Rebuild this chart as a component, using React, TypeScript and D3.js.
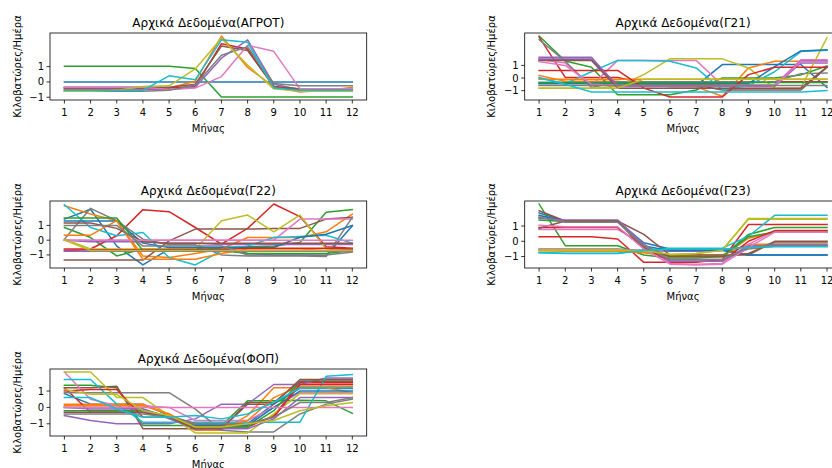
import React from "react";
import * as d3 from "d3";

// Monthly normalized daily consumption (kWh/day) per customer category
const months = [1, 2, 3, 4, 5, 6, 7, 8, 9, 10, 11, 12];
const yTicks = [-1, 0, 1];
const titles = [
  "Αρχικά Δεδομένα(ΑΓΡΟΤ)",
  "Αρχικά Δεδομένα(Γ21)",
  "Αρχικά Δεδομένα(Γ22)",
  "Αρχικά Δεδομένα(Γ23)",
  "Αρχικά Δεδομένα(ΦΟΠ)",
];
const yLabel = "Κιλοβατώρες/Ημέρα";
const xLabel = "Μήνας";

const agrotSeries = [
  [0, 0, 0, 0, 0, 0, 0, 0, 0, 0, 0, 0],
  [-0.45, -0.45, -0.45, -0.45, -0.4, 0.05, 3.0, 0.95, -0.3, -0.65, -0.55, -0.35],
  [1.03, 1.03, 1.03, 1.03, 1.03, 0.88, -0.98, -0.98, -0.98, -0.98, -0.98, -0.98],
  [-0.4, -0.4, -0.4, -0.4, -0.4, -0.3, 2.5, 2.15, -0.3, -0.55, -0.55, -0.5],
  [-0.5, -0.5, -0.5, -0.5, -0.5, -0.35, 1.55, 2.75, -0.15, -0.5, -0.5, -0.5],
  [-0.35, -0.35, -0.35, -0.35, -0.35, -0.15, 2.35, 2.05, -0.3, -0.45, -0.45, -0.45],
  [-0.35, -0.35, -0.35, -0.35, -0.5, -0.4, 0.35, 2.4, 2.0, -0.45, -0.45, -0.45],
  [-0.6, -0.6, -0.6, -0.6, -0.55, -0.2, 1.75, 2.3, -0.1, -0.25, -0.25, -0.25],
  [-0.6, -0.6, -0.55, -0.3, -0.25, 0.85, 2.85, 1.1, -0.45, -0.6, -0.6, -0.6],
  [-0.55, -0.55, -0.55, -0.55, 0.4, 0.15, 2.75, 2.6, -0.4, -0.55, -0.55, -0.55],
];

const g21Series = [
  [-0.35, -0.35, -0.35, -0.35, -0.6, -0.6, -0.6, 1.07, 1.07, 1.07, 1.07, -0.75],
  [0.2, -0.25, -0.25, -0.25, -0.5, -0.7, -0.7, -1.45, 0.8, 1.33, 1.33, 1.33],
  [3.33, 1.35, 0.85, -1.33, -1.33, -1.33, -0.95, 0.0, 0.0, 0.0, 0.25, 0.95],
  [3.25, 0.05, 0.05, 0.05, -0.4, -0.5, -0.5, -0.5, -0.3, -0.3, -0.3, -0.3],
  [1.65, 1.65, 1.65, -0.67, -0.67, -0.67, -0.67, -0.67, -0.67, -0.67, 1.2, 1.2],
  [1.47, 1.47, 1.47, -0.55, -0.55, -0.55, -0.55, -0.95, -0.95, -0.95, -0.95, 0.85],
  [1.47, 1.2, -0.6, 1.4, 1.4, 1.4, 1.4, -0.55, -0.55, -0.55, 1.45, 1.45],
  [3.05, 1.33, -0.75, -0.3, -0.3, -0.3, -0.3, -0.3, -0.3, -0.3, 0.35, 0.4],
  [-0.8, -0.8, -0.8, -0.67, 0.27, 1.52, 1.52, 1.52, 0.8, -0.8, -0.8, 3.2],
  [0.05, -0.45, 0.5, 1.4, 1.4, 1.33, 0.8, -0.93, -0.6, 0.5, 2.1, 2.2],
  [-0.45, -0.45, -0.45, -0.45, -0.45, -0.45, -0.45, -0.45, -0.45, 0.9, 2.15, 2.25],
  [-0.1, -0.1, -0.1, -0.1, -0.1, -0.1, -0.1, -0.1, -0.1, -0.1, -0.1, -0.1],
  [-0.35, -0.35, -0.35, -0.35, -0.35, -0.35, -0.35, -0.35, -0.35, -0.35, -0.35, -0.35],
  [0.6, 0.6, 0.6, 0.6, -0.8, -1.5, -1.5, -1.5, 0.27, 0.85, 0.85, 0.85],
  [1.5, 1.5, 1.5, -0.6, -0.6, -0.6, -0.6, -0.6, -0.6, -0.6, 1.35, 1.35],
  [1.4, 1.4, 1.4, -0.8, -0.8, -0.8, -0.8, -0.8, -0.8, -0.8, -0.8, 0.9],
  [1.3, 1.0, -0.5, -0.6, -0.6, -0.6, -0.6, -0.6, -0.6, -0.6, 1.3, 1.3],
  [-0.6, -0.6, -0.6, -0.6, -0.6, -0.6, -0.6, -0.6, -0.6, -0.6, -0.6, -0.6],
  [-0.8, -0.8, -0.8, -0.8, -0.1, -0.1, -0.1, -0.1, -0.1, -0.1, -0.1, -0.1],
  [0.0, -0.5, -1.1, -1.1, -1.1, -1.1, -1.1, -1.1, -1.1, -1.1, -1.1, -1.0],
];

const g22Series = [
  [1.43, 2.1, -0.4, -1.68, -0.6, -0.55, -0.55, -0.9, -1.0, -1.0, -1.05, 0.98],
  [2.34, 1.77, 1.32, -1.07, -1.18, -0.9, -0.6, 0.18, 0.18, 0.18, 0.57, 1.77],
  [0.86, 0.18, -1.07, -0.6, -0.6, -0.6, -0.5, -0.45, -0.4, -0.16, 1.89, 2.07],
  [-0.6, -0.6, 0.3, 2.07, 1.93, 0.86, -0.27, 0.8, 2.45, 1.6, -0.45, -0.55],
  [0.0, -0.1, -0.1, -0.1, -0.2, -0.2, -0.3, -0.3, -0.3, -0.3, -0.3, -0.3],
  [-1.35, -1.35, -1.35, -1.35, -0.05, 0.75, 0.75, 0.75, 0.8, 0.8, 1.43, 1.55],
  [0.0, 0.0, 0.0, 0.0, 0.0, 0.0, 0.0, 0.0, 0.0, 1.43, 1.43, 1.43],
  [0.07, 2.16, 1.32, 0.07, -0.3, -0.3, -1.0, -1.07, -1.07, -1.07, -1.1, 1.55],
  [0.07, -0.6, -0.6, -0.6, -0.6, -0.6, 1.32, 1.7, 0.57, 1.7, -0.6, -0.6],
  [2.4, 0.86, 0.3, 0.52, -1.18, -1.68, -0.73, -0.4, 0.18, 0.25, 0.34, -0.2],
  [1.3, 1.3, 1.3, -0.2, -0.5, -0.5, -0.5, -0.5, -0.5, 0.2, 0.4, 1.0],
  [0.34, 0.34, 1.32, -1.3, -1.3, -1.3, -0.9, -0.6, -0.6, -0.6, -0.7, -0.7],
  [1.5, 1.5, 1.5, -0.7, -0.7, -0.7, -0.7, -0.9, -0.9, -0.9, -0.9, -0.7],
  [-0.7, -0.65, -0.65, -0.65, -0.65, -0.65, -0.65, -0.55, -0.55, -0.55, -0.55, -0.6],
  [-0.75, -0.75, -0.75, -0.75, -0.75, -0.75, -0.75, -0.75, -0.75, -0.75, -0.75, -0.75],
  [1.16, 1.16, 0.8, -0.1, -0.2, -0.2, -0.2, -0.2, -0.2, -0.2, -0.2, -0.2],
  [0.0, 0.0, 0.0, 0.0, 0.0, 0.0, 0.0, 0.0, 0.0, 0.0, 0.0, 0.0],
  [1.0, 1.0, 1.0, -0.4, -0.4, -0.4, -0.4, -1.0, -1.0, -1.0, -1.0, -0.8],
  [0.0, -0.7, -0.7, -0.7, -0.7, -0.7, -0.7, -0.7, -0.7, -0.7, -0.7, -0.7],
];

const g23Series = [
  [1.85, 1.33, 1.33, 1.33, -0.1, -0.5, -0.5, -0.5, -0.9, -0.9, -0.9, -0.9],
  [-0.6, -0.6, -0.6, -0.6, -0.7, -0.9, -0.9, -0.9, -0.2, -0.2, -0.2, -0.2],
  [2.44, -0.29, -0.29, -0.29, -0.9, -1.1, -1.1, -1.0, 0.45, 0.9, 0.9, 0.9],
  [0.3, 0.3, 0.3, 0.15, -1.38, -1.38, -1.38, -1.2, 1.1, 1.1, 1.1, 1.1],
  [-0.5, -0.5, -0.5, -0.5, -0.6, -0.65, -0.65, -0.6, -0.3, -0.3, -0.3, -0.3],
  [2.0, 1.33, 1.33, 1.33, 0.45, -0.9, -0.9, -0.9, -0.9, 0.0, 0.0, 0.0],
  [0.78, 0.78, 0.78, 0.78, -0.2, -1.45, -1.5, -1.45, -0.2, 0.67, 0.67, 0.67],
  [1.55, 1.33, 1.33, 1.33, -0.2, -1.2, -1.2, -1.2, -0.5, -0.33, -0.33, -0.33],
  [-0.55, -0.55, -0.55, -0.55, -0.67, -0.9, -0.8, -0.55, 1.45, 1.45, 1.45, 1.45],
  [-0.73, -0.78, -0.78, -0.78, -0.55, -0.45, -0.45, -0.45, 0.33, 1.7, 1.7, 1.7],
  [1.7, 1.3, 1.3, 1.3, -0.3, -0.6, -0.6, -0.6, -0.9, -0.9, -0.9, -0.9],
  [-0.6, -0.65, -0.65, -0.65, -0.75, -1.0, -1.0, -1.0, 0.2, 0.6, 0.6, 0.6],
  [1.4, 1.3, 1.3, 1.3, -0.3, -1.0, -1.0, -1.0, 0.3, 0.6, 0.6, 0.6],
  [0.9, 0.9, 0.9, 0.9, -0.4, -1.3, -1.3, -1.3, 0.0, 0.7, 0.7, 0.7],
  [1.5, 1.4, 1.4, 1.4, -0.2, -1.3, -1.3, -1.3, -0.3, -0.3, -0.3, -0.3],
  [0.85, 1.33, 1.33, 1.33, -0.5, -1.0, -1.0, -1.0, -0.8, -0.05, -0.05, -0.05],
  [1.05, 0.95, 0.95, 0.95, -0.5, -1.5, -1.55, -1.5, -0.4, 0.6, 0.6, 0.6],
  [1.6, 1.25, 1.25, 1.25, -0.3, -1.2, -1.2, -1.2, -0.4, -0.2, -0.2, -0.2],
  [-0.6, -0.6, -0.6, -0.6, -0.6, -0.85, -0.8, -0.6, 1.5, 1.5, 1.5, 1.5],
  [-0.75, -0.8, -0.8, -0.8, -0.6, -0.5, -0.5, -0.5, -0.4, -0.35, -0.35, -0.35],
];

const fopSeries = [
  [0.84, 0.2, 0.2, 0.2, -0.5, -1.0, -1.0, -1.0, 0.2, 1.16, 1.16, 1.16],
  [0.2, 0.2, 0.2, 0.2, -0.4, -1.4, -1.4, -0.5, 1.2, 1.2, 1.2, 0.9],
  [1.36, 1.36, 1.2, -1.1, -1.1, -1.1, -1.1, 0.4, 0.4, 0.44, 0.4, -0.36],
  [1.2, -0.3, -0.3, -0.3, -0.6, -1.2, -1.2, -1.2, -0.5, 1.5, 1.5, 1.5],
  [-0.5, -0.8, -1.0, -1.0, -1.0, -0.7, 0.2, 0.2, 1.4, 1.4, 1.8, 1.8],
  [1.2, 1.2, 1.3, -1.3, -1.3, -1.3, -1.3, 0.2, 0.2, 1.7, 1.7, 1.7],
  [2.16, 0.5, 0.1, 0.1, 0.0, -0.8, -0.8, -0.8, 0.0, 0.9, 0.9, 0.9],
  [0.9, 0.9, 0.9, 0.9, 0.9, -0.1, -1.4, -1.5, -1.5, -0.4, 0.2, 0.5],
  [2.16, 2.16, 0.6, 0.6, -0.5, -1.56, -1.56, -1.56, -0.4, 0.84, 0.84, 0.84],
  [1.7, 1.7, 0.2, -0.9, -0.9, -0.9, -0.9, -0.9, -0.9, -0.9, 1.9, 2.0],
  [0.0, 0.0, 0.0, -0.1, -0.6, -1.1, -1.1, -1.1, 0.0, 1.0, 1.0, 1.0],
  [0.1, 0.1, 0.1, 0.1, -0.4, -1.2, -1.2, -0.8, 0.6, 1.3, 1.3, 1.3],
  [-0.2, -0.2, -0.2, -0.2, -0.6, -1.2, -1.2, -1.2, -0.2, 1.6, 1.6, 1.6],
  [1.0, 1.1, 1.1, -0.6, -0.6, -1.0, -1.0, -1.0, -0.6, 1.4, 1.4, 1.4],
  [0.0, -0.1, -0.1, -0.1, -0.7, -1.3, -1.3, -1.3, -0.7, 0.6, 0.6, 0.6],
  [-0.3, -0.3, -0.3, -0.3, -0.6, -1.3, -1.3, 0.3, 0.3, 1.6, 1.6, 1.6],
  [0.0, 0.0, 0.0, 0.0, 0.0, 0.0, 0.0, 0.0, 0.0, 0.0, 0.0, 0.0],
  [-0.4, -0.4, -0.4, -0.4, -0.6, -1.0, -1.0, -1.0, -0.6, 0.3, 0.3, 0.6],
  [1.1, 0.8, 0.8, -0.2, -0.5, -1.2, -1.2, -1.0, -0.8, -0.2, 0.1, 0.3],
  [0.6, 0.6, -0.1, -0.6, -0.6, -0.5, -0.7, -0.4, 0.3, 1.2, 1.2, 1.2],
];

const panels = [agrotSeries, g21Series, g22Series, g23Series, fopSeries];

const W = 832;
const H = 468;
const axW = 316.7;
const axH = 67;
const colLeft = [50, 524.7];
const rowTop = [33, 201, 369];
const FONT = "'DejaVu Sans', sans-serif";

function Panel({ series, title, left, top }: { series: number[][]; title: string; left: number; top: number }) {
  const x = d3.scaleLinear().domain([0.45, 12.55]).range([left, left + axW]);
  const all = series.flat();
  const lo = d3.min(all) as number;
  const hi = d3.max(all) as number;
  const pad = (hi - lo) * 0.05;
  const y = d3.scaleLinear().domain([lo - pad, hi + pad]).range([top + axH, top]);
  const color = d3.scaleOrdinal<number, string>().domain(d3.range(10)).range(d3.schemeCategory10);
  const line = d3
    .line<number>()
    .x((_, i) => x(months[i]))
    .y((v) => y(v));
  const bottom = top + axH;
  const clipId = `clip-${Math.round(left)}-${Math.round(top)}`;
  return (
    <g>
      <defs>
        <clipPath id={clipId}>
          <rect x={left} y={top} width={axW} height={axH} />
        </clipPath>
      </defs>
      <g clipPath={`url(#${clipId})`}>
        {series.map((s, i) => (
          <path key={i} d={line(s) || ""} fill="none" stroke={color(i % 10)} strokeWidth={1.5} strokeLinejoin="round" strokeLinecap="square" />
        ))}
      </g>
      <rect x={left} y={top} width={axW} height={axH} fill="none" stroke="#000" strokeWidth={0.8} />
      {months.map((m) => (
        <g key={m}>
          <line x1={x(m)} x2={x(m)} y1={bottom} y2={bottom + 3.5} stroke="#000" strokeWidth={0.8} />
          <text x={x(m)} y={bottom + 16.3} textAnchor="middle" fontSize={10} fontFamily={FONT} fill="#000">
            {m}
          </text>
        </g>
      ))}
      {yTicks.map((t) => (
        <g key={t}>
          <line x1={left - 3.5} x2={left} y1={y(t)} y2={y(t)} stroke="#000" strokeWidth={0.8} />
          <text x={left - 6} y={y(t)} dy="0.35em" textAnchor="end" fontSize={10} fontFamily={FONT} fill="#000">
            {t < 0 ? `\u2212${Math.abs(t)}` : t}
          </text>
        </g>
      ))}
      <text x={left + axW / 2} y={top - 6} textAnchor="middle" fontSize={12} fontFamily={FONT} fill="#000">
        {title}
      </text>
      <text x={left + axW / 2} y={bottom + 31.5} textAnchor="middle" fontSize={10} fontFamily={FONT} fill="#000">
        {xLabel}
      </text>
      <text
        transform={`translate(${left - 33},${top + axH / 2}) rotate(-90)`}
        textAnchor="middle"
        dy="0.35em"
        fontSize={10}
        fontFamily={FONT}
        fill="#000"
      >
        {yLabel}
      </text>
    </g>
  );
}

export default function App() {
  return (
    <svg width={W} height={H} style={{ position: "absolute", left: 0, top: 0, background: "#fff" }}>
      <rect width={W} height={H} fill="#fff" />
      {panels.map((s, i) => (
        <Panel key={i} series={s} title={titles[i]} left={colLeft[i % 2]} top={rowTop[Math.floor(i / 2)]} />
      ))}
    </svg>
  );
}
